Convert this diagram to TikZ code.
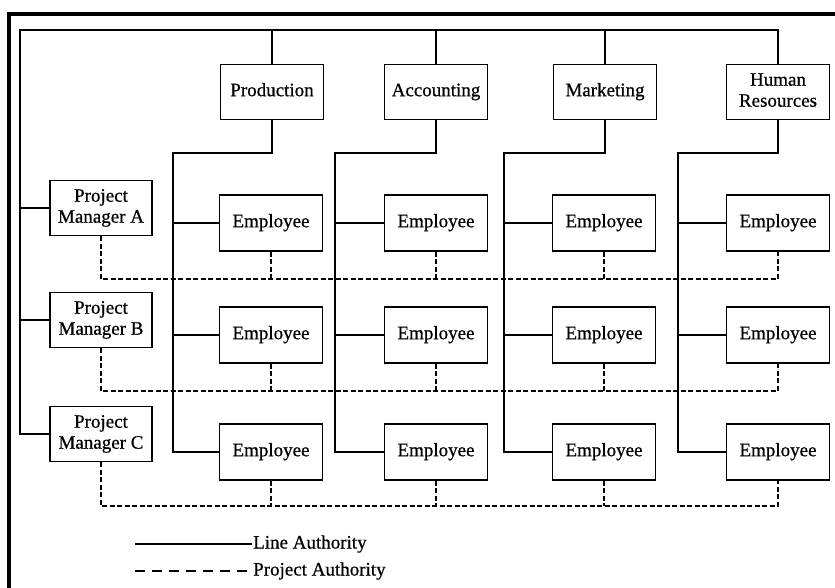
\documentclass[tikz,border=0pt]{standalone}
\usepackage{fontspec}
\setmainfont{Liberation Serif}
\newfontfamily\labelfont[FakeBold=0.6]{Liberation Serif}
\newcommand\boxline[1]{#1\strut}
\begin{document}
\begin{tikzpicture}[x=1pt,y=-1pt,
  box/.style={draw, line width=1.7pt, fill=white, minimum width=103pt, minimum height=55pt,
    inner sep=1pt, align=center, font=\labelfont\fontsize{19}{21}\selectfont},
  lineauth/.style={draw, line width=1.7pt},
  projauth/.style={draw, line width=1.7pt, dash pattern=on 5pt off 2.5pt},
  legdash/.style={draw, line width=1.7pt, dash pattern=on 10pt off 7pt},
  legtext/.style={anchor=west, inner sep=1pt, font=\labelfont\fontsize{19}{21}\selectfont}]
\useasboundingbox (0,0) rectangle (835,588);
\fill[white] (0,0) rectangle (835,588);
% outer frame (top and left rules)
\fill[black] (7,12) rectangle (835,16);
\fill[black] (7,12) rectangle (11,588);

% departments
\node[box] (prod) at (272,92) {\boxline{Production}};
\node[box] (acct) at (436,92) {\boxline{Accounting}};
\node[box] (mktg) at (605,92) {\boxline{Marketing}};
\node[box] (hr)   at (778,92) {\boxline{Human}\\\boxline{Resources}};

% project managers
\node[box, minimum width=102pt] (pmA) at (101,208) {\boxline{Project}\\\boxline{Manager A}};
\node[box, minimum width=102pt] (pmB) at (101,320) {\boxline{Project}\\\boxline{Manager B}};
\node[box, minimum width=102pt] (pmC) at (101,434) {\boxline{Project}\\\boxline{Manager C}};

% employees: e<column><row>
\foreach \c/\x in {1/271,2/436,3/604,4/778}{
  \node[box, minimum height=56pt] (e\c1) at (\x,223) {\boxline{Employee}};
  \node[box, minimum height=56pt] (e\c2) at (\x,335) {\boxline{Employee}};
  \node[box, minimum height=56pt] (e\c3) at (\x,452) {\boxline{Employee}};
}

% line authority: top bus and left bus
\coordinate (tl) at (20,30);
\path[lineauth] (pmC.west) -| (tl) -| (hr.north);
\draw[lineauth] (prod.north) -- (prod.north |- tl);
\draw[lineauth] (acct.north) -- (acct.north |- tl);
\draw[lineauth] (mktg.north) -- (mktg.north |- tl);
\draw[lineauth] (pmA.west) -- (pmA.west -| tl);
\draw[lineauth] (pmB.west) -- (pmB.west -| tl);

% line authority: department down to its employees
\coordinate (b1) at (173,153);
\coordinate (b2) at (335,153);
\coordinate (b3) at (504,153);
\coordinate (b4) at (678,153);
\draw[lineauth] (prod.south) |- (b1) |- (e13.west);
\draw[lineauth] (acct.south) |- (b2) |- (e23.west);
\draw[lineauth] (mktg.south) |- (b3) |- (e33.west);
\draw[lineauth] (hr.south)   |- (b4) |- (e43.west);
\foreach \c in {1,2,3,4}{
  \draw[lineauth] (e\c1.west -| b\c) -- (e\c1.west);
  \draw[lineauth] (e\c2.west -| b\c) -- (e\c2.west);
}

% project authority
\coordinate (dA) at (0,279);
\coordinate (dB) at (0,391);
\coordinate (dC) at (0,506);
\draw[projauth] (pmA.south) |- (e41.south |- dA) -- (e41.south);
\draw[projauth] (pmB.south) |- (e42.south |- dB) -- (e42.south);
\draw[projauth] (pmC.south) |- (e43.south |- dC) -- (e43.south);
\foreach \c in {1,2,3}{
  \draw[projauth] (e\c1.south) -- (e\c1.south |- dA);
  \draw[projauth] (e\c2.south) -- (e\c2.south |- dB);
  \draw[projauth] (e\c3.south) -- (e\c3.south |- dC);
}

% legend
\node[legtext] (la) at (252,544) {Line Authority};
\node[legtext] (pa) at (252,571) {Project Authority};
\coordinate (ls) at (135,544);
\coordinate (ps) at (135,571);
\draw[lineauth] (ls) -- (la.west);
\draw[legdash] (ps) -- (pa.west);
\end{tikzpicture}
\end{document}
